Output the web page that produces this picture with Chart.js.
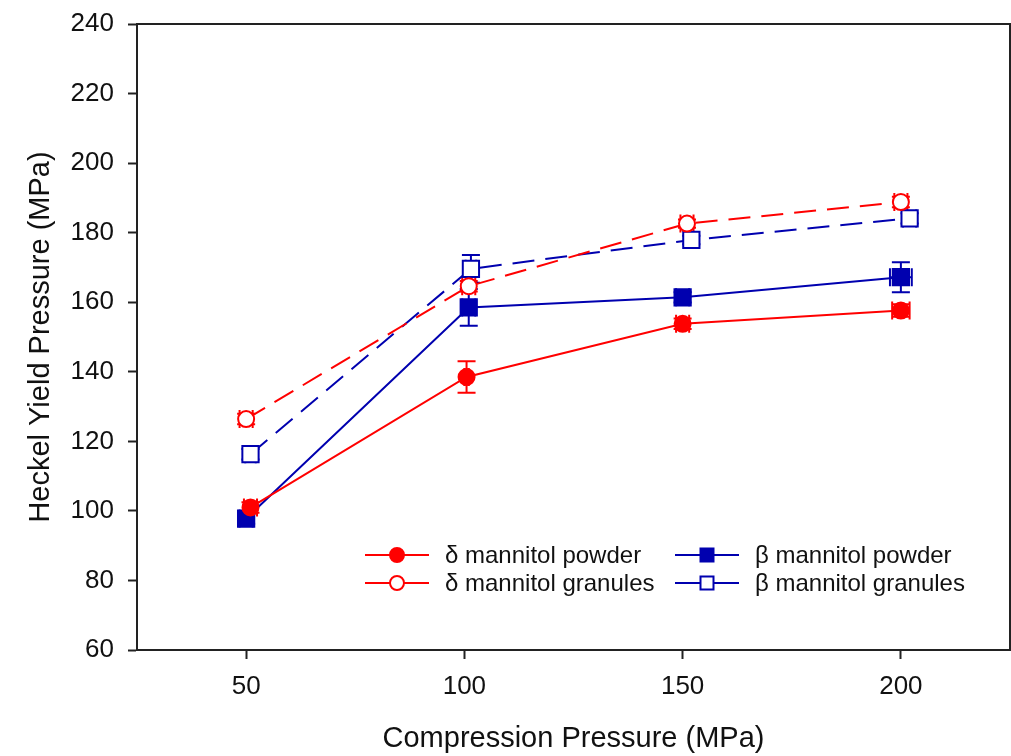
<!DOCTYPE html>
<html>
<head>
<meta charset="utf-8">
<script src="https://cdn.jsdelivr.net/npm/chart.js@4.4.1/dist/chart.umd.min.js"></script>
<style>
  html, body { margin: 0; padding: 0; background: #fff; overflow: hidden; }
  #wrap { width: 1011px; height: 756px; position: relative; }
  canvas { display: block; }
</style>
</head>
<body>
<div id="wrap"><canvas id="chart"></canvas></div>
<script>
const pressureTicks = [50, 100, 150, 200];
const yTicks = [60, 80, 100, 120, 140, 160, 180, 200, 220, 240];

const seriesNames = ["δ mannitol powder", "δ mannitol granules", "β mannitol powder", "β mannitol granules"];

// x = compression pressure, y = Heckel yield pressure, errors
const deltaPowderX = [51, 100.5, 150, 200];
const deltaPowderY = [101, 138.5, 153.8, 157.6];
const deltaPowderYErr = [1.5, 4.5, 1.5, 1.8];
const deltaPowderXErr = [1.5, 0.5, 1.5, 2];

const deltaGranX = [50, 101, 151, 200];
const deltaGranY = [126.4, 164.6, 182.6, 188.8];
const deltaGranYErr = [1.5, 1.5, 1.2, 1.5];
const deltaGranXErr = [1.5, 1.5, 1.5, 1.5];

const betaPowderX = [50, 101, 150, 200];
const betaPowderY = [97.8, 158.5, 161.4, 167.2];
const betaPowderYErr = [1.5, 5.3, 1.5, 4.3];
const betaPowderXErr = [1.5, 1.5, 1.5, 2.5];

const betaGranX = [51, 101.5, 152, 202];
const betaGranY = [116.3, 169.6, 177.9, 184.1];
const betaGranYErr = [1.5, 4, 1.2, 1.5];
const betaGranXErr = [1.2, 1.2, 1.7, 1.5];

const RED = "rgb(255,0,0)";
const BLUE = "rgb(0,0,175)";
const FONT = "'Liberation Sans', Arial, sans-serif";

const points = (xs, ys, xe, ye) => xs.map((x, i) => ({x: x, y: ys[i], xErr: xe[i], yErr: ye[i]}));

const datasets = [
    {
        label: seriesNames[0],
        data: points(deltaPowderX, deltaPowderY, deltaPowderXErr, deltaPowderYErr),
        borderColor: RED, backgroundColor: RED,
        pointStyle: "circle", pointRadius: 8, pointBackgroundColor: RED, pointBorderColor: RED,
        borderDash: []
    },
    {
        label: seriesNames[1],
        data: points(deltaGranX, deltaGranY, deltaGranXErr, deltaGranYErr),
        borderColor: RED, backgroundColor: RED,
        pointStyle: "circle", pointRadius: 8, pointBackgroundColor: "#fff", pointBorderColor: RED,
        borderDash: [22, 11]
    },
    {
        label: seriesNames[2],
        data: points(betaPowderX, betaPowderY, betaPowderXErr, betaPowderYErr),
        borderColor: BLUE, backgroundColor: BLUE,
        pointStyle: "rect", pointRadius: 11.5, pointBackgroundColor: BLUE, pointBorderColor: BLUE,
        borderDash: []
    },
    {
        label: seriesNames[3],
        data: points(betaGranX, betaGranY, betaGranXErr, betaGranYErr),
        borderColor: BLUE, backgroundColor: BLUE,
        pointStyle: "rect", pointRadius: 11.5, pointBackgroundColor: "#fff", pointBorderColor: BLUE,
        borderDash: [22, 11]
    }
];

// error bars go under the markers so open symbols stay white inside
const errorBars = {
    id: "errorBars",
    beforeDatasetsDraw(chart) {
        const {ctx, scales: {x, y}} = chart;
        const cap = 9;
        chart.data.datasets.forEach(ds => {
            ctx.save();
            ctx.strokeStyle = ds.borderColor;
            ctx.lineWidth = 2;
            ds.data.forEach(p => {
                const px = x.getPixelForValue(p.x);
                const py = y.getPixelForValue(p.y);
                ctx.beginPath();
                if (p.yErr) {
                    const t = y.getPixelForValue(p.y + p.yErr);
                    const b = y.getPixelForValue(p.y - p.yErr);
                    ctx.moveTo(px, t); ctx.lineTo(px, b);
                    ctx.moveTo(px - cap, t); ctx.lineTo(px + cap, t);
                    ctx.moveTo(px - cap, b); ctx.lineTo(px + cap, b);
                }
                if (p.xErr) {
                    const l = x.getPixelForValue(p.x - p.xErr);
                    const r = x.getPixelForValue(p.x + p.xErr);
                    ctx.moveTo(l, py); ctx.lineTo(r, py);
                    ctx.moveTo(l, py - cap); ctx.lineTo(l, py + cap);
                    ctx.moveTo(r, py - cap); ctx.lineTo(r, py + cap);
                }
                ctx.stroke();
            });
            ctx.restore();
        });
    }
};

const frame = {
    id: "frame",
    afterDraw(chart) {
        const {ctx, chartArea: a} = chart;
        ctx.save();
        ctx.strokeStyle = "#222";
        ctx.lineWidth = 2;
        ctx.beginPath();
        ctx.moveTo(a.left, a.top);
        ctx.lineTo(a.right, a.top);
        ctx.lineTo(a.right, a.bottom);
        ctx.stroke();
        ctx.restore();
    }
};

// two-column legend inside the plot, bottom right
const insideLegend = {
    id: "insideLegend",
    afterDraw(chart) {
        const {ctx} = chart;
        const cols = [365, 675];
        const rows = [555, 583];
        ctx.save();
        ctx.font = "24px " + FONT;
        ctx.textBaseline = "middle";
        chart.data.datasets.forEach((ds, i) => {
            const x0 = cols[Math.floor(i / 2)];
            const y0 = rows[i % 2];
            const lineLen = 64;
            ctx.strokeStyle = ds.borderColor;
            ctx.lineWidth = 2;
            ctx.setLineDash([]);
            ctx.beginPath();
            ctx.moveTo(x0, y0); ctx.lineTo(x0 + lineLen, y0);
            ctx.stroke();
            const mx = x0 + lineLen / 2;
            ctx.fillStyle = ds.pointBackgroundColor;
            ctx.beginPath();
            if (ds.pointStyle === "circle") {
                ctx.arc(mx, y0, 7, 0, Math.PI * 2);
            } else {
                ctx.rect(mx - 6.5, y0 - 6.5, 13, 13);
            }
            ctx.fill();
            ctx.stroke();
            ctx.fillStyle = "#111";
            ctx.fillText(ds.label, x0 + lineLen + 16, y0 + 1);
        });
        ctx.restore();
    }
};

new Chart(document.getElementById("chart"), {
    type: "line",
    data: {datasets: datasets},
    options: {
        responsive: true,
        maintainAspectRatio: false,
        animation: false,
        elements: {
            line: {borderWidth: 2, tension: 0},
            point: {borderWidth: 2}
        },
        layout: {autoPadding: false, padding: {top: 24, right: 1, left: 0, bottom: 0}},
        plugins: {legend: {display: false}, tooltip: {enabled: false}},
        scales: {
            x: {
                type: "linear",
                min: 25, max: 225,
                afterBuildTicks: s => { s.ticks = pressureTicks.map(v => ({value: v})); },
                afterFit: s => { s.height = 106; s.paddingLeft = 0; s.paddingRight = 0; },
                grid: {drawOnChartArea: false, drawTicks: true, tickLength: 9, tickWidth: 2, tickColor: "#222"},
                border: {display: true, color: "#222", width: 2},
                ticks: {color: "#111", font: {family: FONT, size: 26}, padding: 12},
                title: {display: true, text: "Compression Pressure (MPa)", color: "#111",
                        font: {family: FONT, size: 29}, padding: {top: 0, bottom: 0}}
            },
            y: {
                type: "linear",
                min: 60, max: 240,
                afterBuildTicks: s => { s.ticks = yTicks.map(v => ({value: v})); },
                afterFit: s => { s.width = 137; s.paddingTop = 0; s.paddingBottom = 0; },
                grid: {drawOnChartArea: false, drawTicks: true, tickLength: 9, tickWidth: 2, tickColor: "#222"},
                border: {display: true, color: "#222", width: 2},
                ticks: {color: "#111", font: {family: FONT, size: 26}, padding: 14},
                title: {display: true, text: "Heckel Yield Pressure (MPa)", color: "#111",
                        font: {family: FONT, size: 29}, padding: {top: 24, bottom: 0}}
            }
        }
    },
    plugins: [errorBars, frame, insideLegend]
});
</script>
</body>
</html>
